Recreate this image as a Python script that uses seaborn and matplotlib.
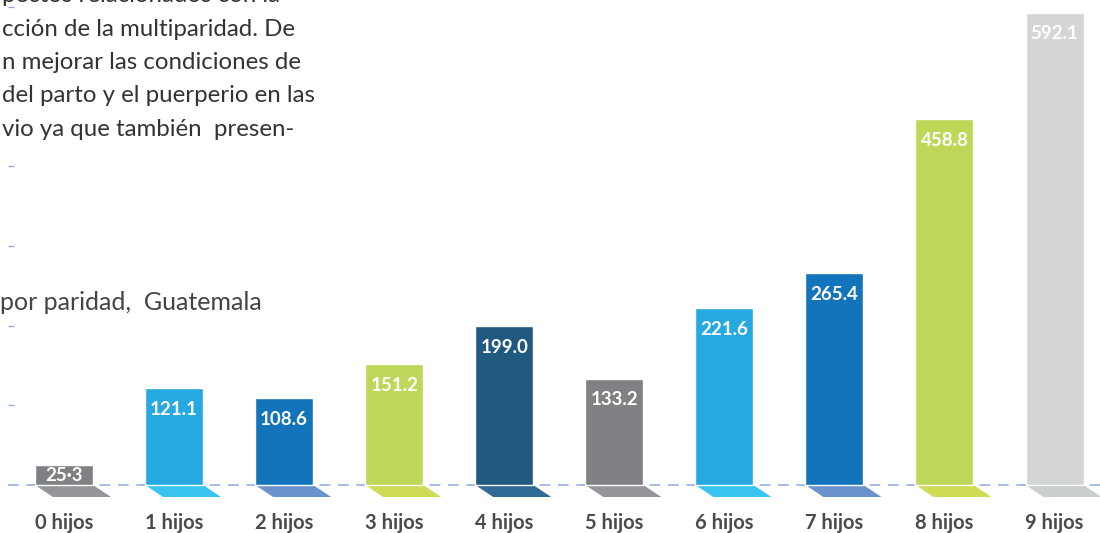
import matplotlib
matplotlib.use("Agg")
import matplotlib.pyplot as plt
from matplotlib.patches import Polygon
import seaborn as sns
import pandas as pd

# Data
categorias = ["0 hijos", "1 hijos", "2 hijos", "3 hijos", "4 hijos",
              "5 hijos", "6 hijos", "7 hijos", "8 hijos", "9 hijos"]
valores = [25.3, 121.1, 108.6, 151.2, 199.0, 133.2, 221.6, 265.4, 458.8, 592.1]
etiquetas = ["25·3", "121.1", "108.6", "151.2", "199.0",
             "133.2", "221.6", "265.4", "458.8", "592.1"]

colores_barra = ["#808184", "#26A9E0", "#1474BB", "#BDD759", "#215A80",
                 "#808184", "#26A9E0", "#1474BB", "#BDD759", "#D4D6D3"]
colores_piso = ["#939598", "#38C3F0", "#6A93CD", "#CEDC55", "#2E6A93",
                "#939598", "#38C3F0", "#6A93CD", "#CEDC55", "#C9CECE"]

parrafo = ["pectos relacionados con la",
           "cción de la multiparidad. De",
           "n mejorar las condiciones de",
           "del parto y el puerperio en las",
           "vio ya que también  presen-"]
subtitulo = "por paridad,  Guatemala"

sns.set_theme(style="white")
plt.rcParams["font.family"] = ["Lato", "DejaVu Sans"]

W, H = 1100, 533
fig = plt.figure(figsize=(W / 100, H / 100), dpi=100)
ax_left_px = 8
ax = fig.add_axes([ax_left_px / W, 0, 1 - ax_left_px / W, 1])

df = pd.DataFrame({"cat": categorias, "val": valores})
bar_w = 0.527
sns.barplot(data=df, x="cat", y="val", hue="cat", palette=colores_barra,
            legend=False, width=bar_w, saturation=1, ax=ax, zorder=3)

# pixel -> data scaling
px_per_x = 110.06
px_per_y = 0.7972
center0_px = 64
x_left = (ax_left_px - center0_px) / px_per_x
x_right = (W - center0_px) / px_per_x
base_px = 485
ax.set_xlim(x_left, x_right)
ax.set_ylim(-(H - base_px) / px_per_y, base_px / px_per_y)

# Floor shadows beneath each bar
dx = 18 / px_per_x
dy = 12 / px_per_y
for patch, c in zip(ax.patches, colores_piso):
    x0 = patch.get_x()
    x1 = x0 + patch.get_width()
    ax.add_patch(Polygon([(x0, 0), (x1, 0), (x1 + dx, -dy), (x0 + dx, -dy)],
                         closed=True, facecolor=c, edgecolor="none", zorder=2))

# Dashed baseline
ax.axhline(0, color="#8FA8D8", lw=1.1, ls=(0, (7, 5)), zorder=1)

# Value labels inside bars, near the top (centred when the bar is short)
for i, (v, t) in enumerate(zip(valores, etiquetas)):
    off = min(21 / px_per_y, v / 2 * 1.05)
    ax.text(i, v - off, t, ha="center", va="center",
            color="white", fontsize=13.5, fontweight="bold", zorder=4)

# Category labels
for i, c in enumerate(categorias):
    ax.text(i, -(523 - base_px) / px_per_y, c, ha="center", va="center",
            color="#4A4A4C", fontsize=14.5, fontweight="bold")

# Axis styling
ax.set_xlabel("")
ax.set_ylabel("")
ax.set_xticks([])
ax.set_yticks([100, 200, 300, 400, 500, 600])
ax.tick_params(axis="y", direction="in", length=4.3, width=0.9,
               color="#8FA8D8", labelleft=False, left=True)
for s in ax.spines.values():
    s.set_visible(False)

# Surrounding text
for k, line in enumerate(parrafo):
    y_px = -4 + 33.3 * k
    fig.text(2 / W, 1 - y_px / H, line, ha="left", va="center",
             color="#333333", fontsize=17.3)
fig.text(0 / W, 1 - 303 / H, subtitulo, ha="left", va="center",
         color="#444444", fontsize=18)

fig.savefig("out.png", dpi=100)
